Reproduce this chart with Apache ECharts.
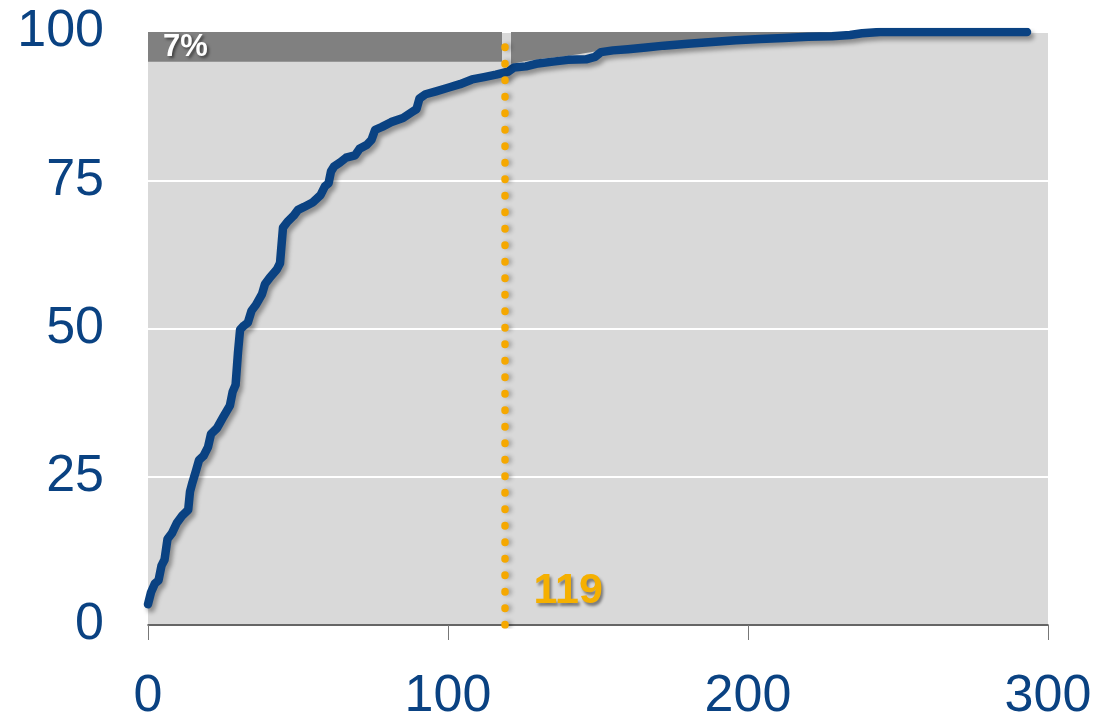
<!DOCTYPE html>
<html><head><meta charset="utf-8">
<script src="https://cdn.jsdelivr.net/npm/echarts@6/dist/echarts.min.js"></script>
<style>html,body{margin:0;padding:0;background:#fff}#c{width:1098px;height:724px}</style>
</head><body><div id="c"></div>
<script>
// Cumulative curve: [x, y]
const curveX = [0,1,2.3,3.5,4.5,5.5,6.5,8,9.6,11.5,13.4,14,14.8,16,17,18.5,20,21,23,25,27.3,28.2,29.2,30,30.7,32,33.3,34.5,36,38,39,40.5,43,44,44.5,45,46.5,48.5,50,52,55,57.5,59,60.2,61,62,64,66,69,70.5,73,74.5,75.7,78,81,85,88,89.5,90.5,92.5,96,100,104,108,112,116,120,122,126,130,135,140,146,149,151,155,160,166,172,180,188,196,204,212,220,228,234,238,244,293];
const curveY = [3.5,5.5,7,7.5,10,11,14.5,15.5,17.2,18.5,19.4,22.5,24,26,27.8,28.5,30,32.2,33.2,35,37,39.3,40.5,46,49.8,50.5,51,53,54,55.8,57.5,58.5,60,61,64,67,68,69,70,70.5,71.3,72.5,74,74.5,76.5,77.3,78,78.8,79.2,80.3,81,81.8,83.5,84,84.8,85.5,86.5,87,88.8,89.5,90,90.6,91.2,92,92.4,92.8,93.3,94,94.2,94.7,95,95.3,95.4,95.8,96.6,96.9,97.1,97.4,97.7,98,98.3,98.6,98.8,99,99.2,99.3,99.5,99.8,100,100];
// Shaded tail (area above curve, to 100)
const shadeX = [121,130,140,150,160,175,190,210,230,250,293];
const shadeY = [94.6,95.4,96.0,96.8,97.6,98.3,98.9,99.4,99.8,100,100];
// Top band up to the cutoff
const bandX = [0,118];
const bandY = [95,95];
const bandLabel = '7%';
const bandLabelPos = [5,97.4];
// Cutoff
const cutoff = 119;
const cutoffY = [0,100];
const cutoffLabelPos = [128.5,5.7];
const xTicks = [0,100,200,300];
const yTicks = [0,25,50,75,100];

const blue = '#0a4282';
const font = 'Liberation Sans, Arial, sans-serif';
const chart = echarts.init(document.getElementById('c'));
const zip = (a,b) => a.map((v,i)=>[v,b[i]]);
chart.setOption({
  animation:false,
  grid:{left:148,right:50,top:32,bottom:99,show:true,backgroundColor:'#d9d9d9',borderWidth:0},
  xAxis:{type:'value',min:xTicks[0],max:xTicks[xTicks.length-1],interval:100,
    axisLine:{show:true,onZero:false,lineStyle:{color:'#333',width:1.5}},
    axisTick:{show:true,length:15,lineStyle:{color:'#777',width:1}},
    splitLine:{show:false},
    axisLabel:{margin:46,fontSize:52,color:blue,fontFamily:font}},
  yAxis:{type:'value',min:yTicks[0],max:yTicks[yTicks.length-1],interval:25,
    axisLine:{show:false},axisTick:{show:false},
    splitLine:{show:true,lineStyle:{color:'#ffffff',width:2}},
    axisLabel:{margin:44,fontSize:52,color:blue,fontFamily:font}},
  series:[
    {type:'line',z:1,symbol:'none',silent:true,
     data: zip(bandX,bandY),
     lineStyle:{width:0},areaStyle:{origin:'end',color:'#808080',opacity:1}},
    {type:'line',z:1,symbol:'none',silent:true,smooth:true,
     data: zip(shadeX,shadeY),
     lineStyle:{width:0},areaStyle:{origin:'end',color:'#808080',opacity:1}},
    {type:'line',z:3,symbol:'none',silent:true,
     data: zip(curveX,curveY),
     lineStyle:{color:blue,width:8.5,join:'round',cap:'round',
       shadowColor:'rgba(0,0,0,0.35)',shadowBlur:4,shadowOffsetX:3,shadowOffsetY:4}},
    {type:'line',z:4,symbol:'none',silent:true,
     data: cutoffY.map(y=>[cutoff,y]),
     lineStyle:{color:'#f5a800',width:7.5,type:[0.5,16],cap:'round',
       shadowColor:'rgba(0,0,0,0.25)',shadowBlur:4,shadowOffsetX:3,shadowOffsetY:0}},
    {type:'scatter',z:5,silent:true,symbolSize:0,itemStyle:{color:'#d9d9d9',opacity:1},
     data:[
       {value:bandLabelPos,label:{show:true,formatter:bandLabel,position:'right',distance:0,opacity:1,
         color:'#ffffff',fontWeight:'bold',fontSize:31,fontFamily:font,
         textShadowColor:'rgba(0,0,0,0.5)',textShadowBlur:3,textShadowOffsetX:2,textShadowOffsetY:2}},
       {value:cutoffLabelPos,label:{show:true,formatter:String(cutoff),position:'right',distance:0,opacity:1,
         color:'#f5b000',fontWeight:'bold',fontSize:43,fontFamily:font,
         textShadowColor:'rgba(0,0,0,0.45)',textShadowBlur:3,textShadowOffsetX:2,textShadowOffsetY:3}}
     ]}
  ]
});
</script></body></html>
